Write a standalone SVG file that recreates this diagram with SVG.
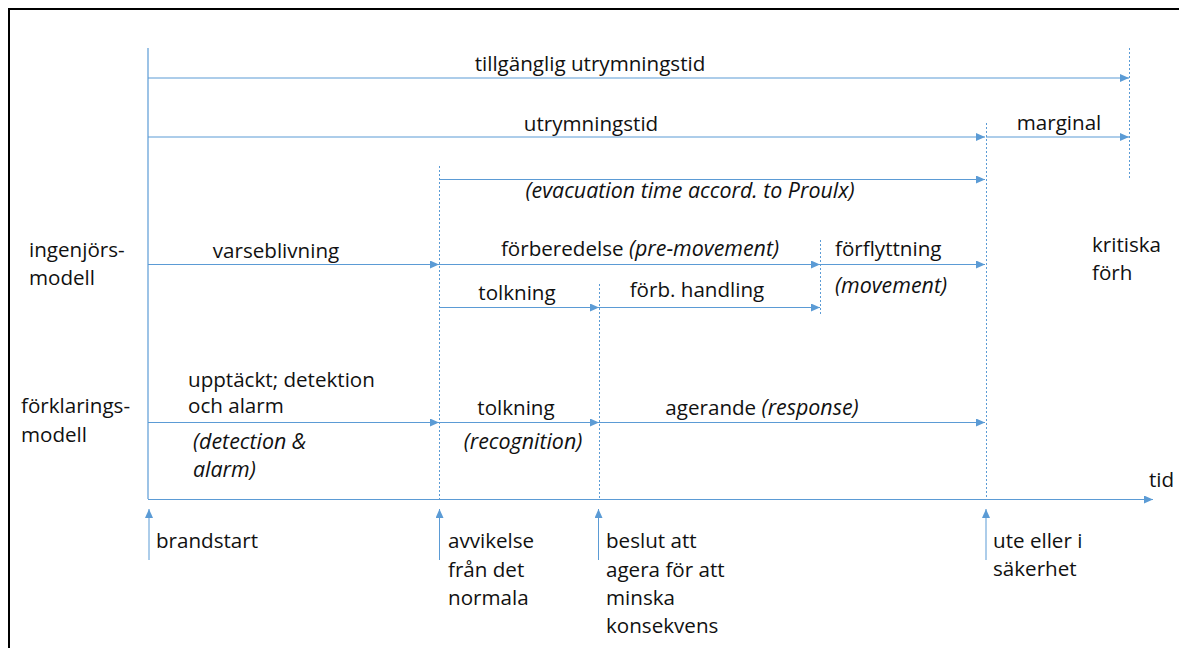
<svg xmlns="http://www.w3.org/2000/svg" width="1179" height="648" viewBox="0 0 1179 648">
<defs>
<marker id="ah" markerUnits="userSpaceOnUse" markerWidth="9" markerHeight="8" refX="9" refY="4" orient="auto">
<path d="M0,0 L9,4 L0,8 z" fill="#5B9BD5"/>
</marker>
<style>
.t{font-family:"Open Sans","Liberation Sans",sans-serif;font-size:20.6px;fill:#111}
.i{font-style:italic;font-size:21.4px}
.m{text-anchor:middle}
.a{stroke:#5B9BD5;stroke-width:1;fill:none;marker-end:url(#ah)}
.s{stroke:#5B9BD5;stroke-width:1.2;fill:none}
.d{stroke:#5B9BD5;stroke-width:1;fill:none;stroke-dasharray:2 2}
</style>
</defs>
<rect width="1179" height="648" fill="#fff"/>
<rect x="9" y="9" width="1180" height="650" fill="none" stroke="#000" stroke-width="2"/>
<g id="connectors">
<path class="s" d="M148,48 V499"/>
<path class="d" d="M1129.5,48 V180"/>
<path class="d" d="M986.5,123 V499"/>
<path class="d" d="M439.5,166 V499"/>
<path class="d" d="M820.5,240 V316"/>
<path class="d" d="M599.5,284 V499"/>
<path class="a" d="M148,78 H1129"/>
<path class="a" d="M148,137 H985"/>
<path class="a" d="M986,137 H1129"/>
<path class="a" d="M439,179.5 H985"/>
<path class="a" d="M148,264.5 H439"/>
<path class="a" d="M439,264.5 H820"/>
<path class="a" d="M820,264.5 H985"/>
<path class="a" d="M439,307.5 H820"/>
<path class="a" d="M439,307.5 H599"/>
<path class="a" d="M148,422.5 H439"/>
<path class="a" d="M439,422.5 H599"/>
<path class="a" d="M599,422.5 H985"/>
<path class="a" d="M148,499.5 H1153"/>
<path class="a" d="M149,560 V509"/>
<path class="a" d="M439.5,560 V509"/>
<path class="a" d="M598.5,560 V509"/>
<path class="a" d="M986,560 V509"/>
</g>
<g id="tillganglig"><text class="t m" x="590" y="71">tillgänglig utrymningstid</text></g>
<g id="utrymningstid"><text class="t m" x="591" y="131">utrymningstid</text></g>
<g id="marginal"><text class="t m" x="1059" y="130">marginal</text></g>
<g id="proulx"><text class="t i m" x="690" y="198">(evacuation time accord. to Proulx)</text></g>
<g id="varseblivning"><text class="t m" x="276" y="258">varseblivning</text></g>
<g id="forberedelse"><text class="t m" x="640" y="256">förberedelse <tspan class="i">(pre-movement)</tspan></text></g>
<g id="forflyttning"><text class="t" x="835" y="256">förflyttning</text><text class="t i" x="835" y="293">(movement)</text></g>
<g id="tolkning1"><text class="t m" x="517" y="300">tolkning</text></g>
<g id="forbhandling"><text class="t m" x="697" y="297">förb. handling</text></g>
<g id="upptackt"><text class="t" x="188" y="387">upptäckt; detektion</text><text class="t" x="188" y="413">och alarm</text><text class="t i" x="193" y="449">(detection &amp;</text><text class="t i" x="193" y="477">alarm)</text></g>
<g id="tolkning2"><text class="t m" x="516" y="415">tolkning</text><text class="t i m" x="523" y="449">(recognition)</text></g>
<g id="agerande"><text class="t m" x="762" y="415">agerande <tspan class="i">(response)</tspan></text></g>
<g id="tid"><text class="t" x="1149" y="487">tid</text></g>
<g id="brandstart"><text class="t" x="156" y="548">brandstart</text></g>
<g id="avvikelse"><text class="t" x="448" y="548">avvikelse</text><text class="t" x="448" y="577">från det</text><text class="t" x="448" y="605">normala</text></g>
<g id="beslut"><text class="t" x="606" y="548">beslut att</text><text class="t" x="606" y="577">agera för att</text><text class="t" x="606" y="605">minska</text><text class="t" x="606" y="633">konsekvens</text></g>
<g id="ute"><text class="t" x="993" y="548">ute eller i</text><text class="t" x="993" y="576">säkerhet</text></g>
<g id="ingenjor"><text class="t" x="29" y="257">ingenjörs-</text><text class="t" x="29" y="285">modell</text></g>
<g id="forklaring"><text class="t" x="21" y="413">förklarings-</text><text class="t" x="21" y="442">modell</text></g>
<g id="kritiska"><text class="t" x="1092" y="252">kritiska</text><text class="t" x="1092" y="280">förh</text></g>
</svg>
